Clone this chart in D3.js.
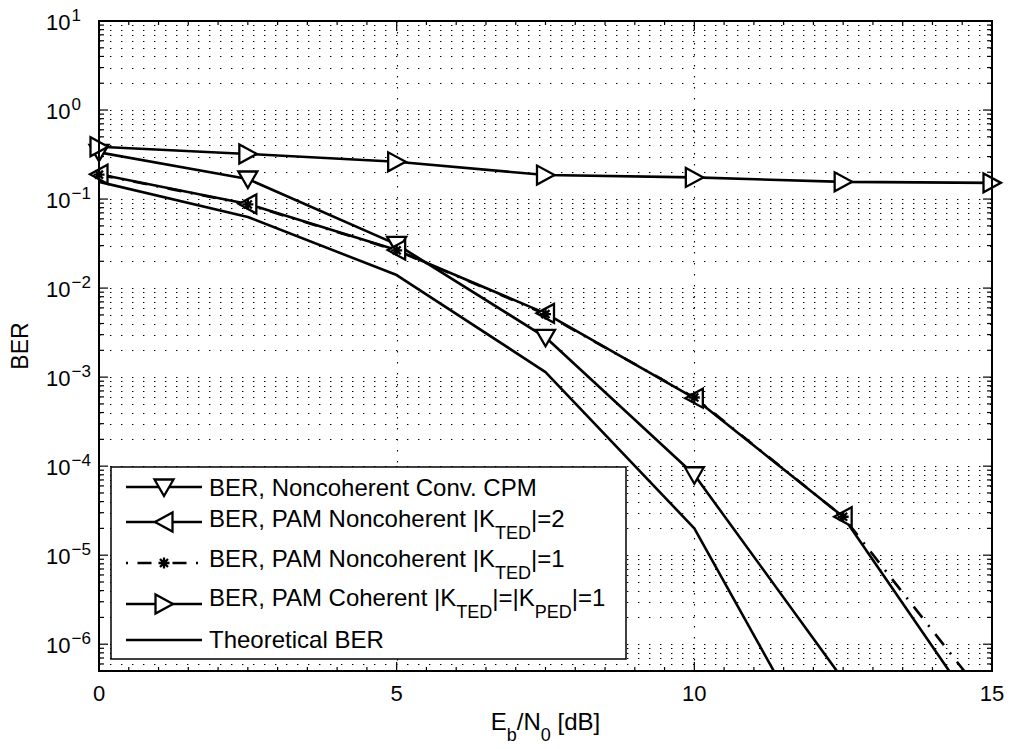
<!DOCTYPE html>
<html>
<head>
<meta charset="utf-8">
<script src="https://cdn.jsdelivr.net/npm/d3@7"></script>
<style>
  html, body { margin: 0; padding: 0; background: #fff; }
  svg { display: block; font-family: "Liberation Sans", Arial, Helvetica, sans-serif; }
</style>
</head>
<body>
<script>
// Eb/N0 grid (dB) shared by all curves
const ebn0 = [0, 2.5, 5, 7.5, 10, 12.5, 15];

// Bit error rates per receiver
const berConvCpm   = [0.335, 0.168, 0.031, 0.0028, 8.0e-5, 4.0e-7];
const berPamNcK2   = [0.19, 0.088, 0.0267, 0.0052, 5.8e-4, 2.7e-5, 1.0e-7];
const berPamNcK1   = [0.188, 0.087, 0.0265, 0.0051, 5.9e-4, 2.7e-5, 2.0e-7];
const berPamCoh    = [0.387, 0.321, 0.262, 0.186, 0.175, 0.156, 0.152];
const berTheory    = [0.156, 0.063, 0.014, 1.14e-3, 2.0e-5, 2.0e-8];

// Axis ticks
const xTicks = [0, 5, 10, 15];
const yExponents = [-6, -5, -4, -3, -2, -1, 0, 1];

const W = 1015, H = 749;
const plot = { left: 99, right: 992, top: 21, bottom: 671 };

const svg = d3.select("body").append("svg").attr("width", W).attr("height", H);

const x = d3.scaleLinear().domain([0, 15]).range([plot.left, plot.right]);
const y = d3.scaleLog().domain([5e-7, 10]).range([plot.bottom, plot.top]);

// plot background
svg.append("rect")
  .attr("x", plot.left).attr("y", plot.top)
  .attr("width", plot.right - plot.left).attr("height", plot.bottom - plot.top)
  .attr("fill", "#fff");

svg.append("clipPath").attr("id", "plotClip")
  .append("rect")
  .attr("x", plot.left).attr("y", plot.top)
  .attr("width", plot.right - plot.left).attr("height", plot.bottom - plot.top);

// ---- dotted grid ----
const [yMin, yMax] = y.domain();
const yGridVals = [];
for (let e = -7; e <= 1; e++) {
  for (let k = 1; k <= 9; k++) {
    const v = k * Math.pow(10, e);
    if (v > yMin * 1.0001 && v < yMax * 0.9999) yGridVals.push(v);
  }
}
const grid = svg.append("g").attr("stroke", "#000").attr("stroke-width", 1.1)
  .attr("stroke-dasharray", "1.4 9.6").attr("fill", "none");
grid.selectAll("line.h").data(yGridVals).join("line")
  .attr("class", "h")
  .attr("x1", plot.left).attr("x2", plot.right)
  .attr("y1", d => Math.round(y(d)) + 0.5).attr("y2", d => Math.round(y(d)) + 0.5);
grid.selectAll("line.v").data(xTicks.filter(t => t > 0 && t < 15)).join("line")
  .attr("class", "v")
  .attr("x1", d => Math.round(x(d)) + 0.5).attr("x2", d => Math.round(x(d)) + 0.5)
  .attr("y1", plot.top).attr("y2", plot.bottom);

// ---- tick marks (inward, both sides) ----
const ticks = svg.append("g").attr("stroke", "#000").attr("stroke-width", 1.2);
const yMajorVals = yExponents.map(e => Math.pow(10, e));
const yMinorVals = yGridVals.filter(v => !yMajorVals.some(m => Math.abs(m - v) / m < 1e-6));
function yTick(vals, len) {
  ticks.selectAll(null).data(vals).join("line")
    .attr("x1", plot.left).attr("x2", plot.left + len)
    .attr("y1", d => y(d)).attr("y2", d => y(d));
  ticks.selectAll(null).data(vals).join("line")
    .attr("x1", plot.right).attr("x2", plot.right - len)
    .attr("y1", d => y(d)).attr("y2", d => y(d));
}
yTick(yMajorVals, 9);
yTick(yMinorVals, 5);
const xMinorVals = d3.range(0.5, 15, 0.5).filter(v => v % 5 !== 0);
function xTick(vals, len) {
  ticks.selectAll(null).data(vals).join("line")
    .attr("x1", d => x(d)).attr("x2", d => x(d))
    .attr("y1", plot.bottom).attr("y2", plot.bottom - len);
  ticks.selectAll(null).data(vals).join("line")
    .attr("x1", d => x(d)).attr("x2", d => x(d))
    .attr("y1", plot.top).attr("y2", plot.top + len);
}
xTick(xTicks, 9);
xTick(xMinorVals, 4);

// ---- curves ----
const lineGen = d3.line().x((d, i) => x(ebn0[i])).y(d => y(d));
const curves = svg.append("g").attr("clip-path", "url(#plotClip)")
  .attr("fill", "none").attr("stroke", "#000").attr("stroke-width", 2.6)
  .attr("stroke-linejoin", "round");

const DASHDOT = "14 9.5 2 9.5";

const series = [
  { values: berConvCpm, marker: "down", dash: null },
  { values: berPamNcK2, marker: "left", dash: null },
  { values: berPamNcK1, marker: "star", dash: DASHDOT },
  { values: berPamCoh,  marker: "right", dash: null },
  { values: berTheory,  marker: null, dash: null }
];

// marker outlines in local coordinates
function markerPath(kind) {
  switch (kind) {
    case "down":  return "M-9.5,-7.5L9.5,-7.5L0,9Z";
    case "left":  return "M-9,0L8.5,-9.5L8.5,9.5Z";
    case "right": return "M9,0L-8.5,-9.5L-8.5,9.5Z";
    case "star":  return "M-5.5,0L5.5,0M0,-5.5L0,5.5M-4,-4L4,4M-4,4L4,-4";
  }
  return "";
}

function drawMarker(g, kind, cx, cy) {
  g.append("path")
    .attr("d", markerPath(kind))
    .attr("transform", `translate(${cx},${cy})`)
    .attr("fill", kind === "star" ? "none" : "#fff")
    .attr("stroke", "#000")
    .attr("stroke-width", 2.3)
    .attr("stroke-linejoin", "miter");
}

const markers = svg.append("g");
series.forEach(s => {
  curves.append("path")
    .attr("d", lineGen(s.values))
    .attr("stroke-dasharray", s.dash);
  if (s.marker) {
    s.values.forEach((v, i) => {
      if (v >= yMin && v <= yMax) drawMarker(markers, s.marker, x(ebn0[i]), y(v));
    });
  }
});

// ---- axes box ----
svg.append("rect")
  .attr("x", plot.left).attr("y", plot.top)
  .attr("width", plot.right - plot.left).attr("height", plot.bottom - plot.top)
  .attr("fill", "none").attr("stroke", "#000").attr("stroke-width", 2);

// ---- tick labels ----
const FS_TICK = 22, FS = 24, FS_SUB = 18;
svg.append("g").selectAll("text").data(xTicks).join("text")
  .attr("x", d => x(d)).attr("y", 701)
  .attr("text-anchor", "middle").attr("font-size", FS_TICK)
  .text(d => d);

const yl = svg.append("g").selectAll("g").data(yExponents).join("g");
yl.append("text")
  .attr("x", 70.5).attr("y", d => y(Math.pow(10, d)) + 9)
  .attr("text-anchor", "end").attr("font-size", FS_TICK)
  .text("10");
yl.append("text")
  .attr("x", 71.5).attr("y", d => y(Math.pow(10, d)) - 0.5)
  .attr("text-anchor", "start").attr("font-size", 17)
  .text(d => (d < 0 ? "\u2212" + (-d) : String(d)));

// ---- axis titles ----
const xt = svg.append("text")
  .attr("x", (plot.left + plot.right) / 2).attr("y", 730)
  .attr("text-anchor", "middle").attr("font-size", FS);
xt.append("tspan").text("E");
xt.append("tspan").attr("font-size", FS_SUB).attr("dy", 11).text("b");
xt.append("tspan").attr("dy", -11).text("/N");
xt.append("tspan").attr("font-size", FS_SUB).attr("dy", 11).text("0");
xt.append("tspan").attr("dy", -11).text(" [dB]");

svg.append("text")
  .attr("transform", `translate(28,${(plot.top + plot.bottom) / 2}) rotate(-90)`)
  .attr("text-anchor", "middle").attr("font-size", 23)
  .text("BER");

// ---- legend ----
const legendBox = { x0: 111, y0: 467, x1: 626, y1: 659 };
const leg = svg.append("g");
leg.append("rect")
  .attr("x", legendBox.x0).attr("y", legendBox.y0)
  .attr("width", legendBox.x1 - legendBox.x0).attr("height", legendBox.y1 - legendBox.y0)
  .attr("fill", "#fff").attr("stroke", "#000").attr("stroke-width", 1.5);

const legendRows = [
  { lineY: 487, textY: 496, parts: [["BER, Noncoherent Conv. CPM"]] },
  { lineY: 522, textY: 527, parts: [["BER, PAM Noncoherent |K"], ["TED", "sub"], ["|=2"]] },
  { lineY: 563, textY: 567, parts: [["BER, PAM Noncoherent |K"], ["TED", "sub"], ["|=1"]] },
  { lineY: 604, textY: 606, parts: [["BER, PAM Coherent |K"], ["TED", "sub"], ["|=|K"], ["PED", "sub"], ["|=1"]] },
  { lineY: 640, textY: 648, parts: [["Theoretical BER"]] }
];

legendRows.forEach((row, i) => {
  const s = series[i];
  leg.append("line")
    .attr("x1", 126).attr("x2", 202)
    .attr("y1", row.lineY).attr("y2", row.lineY)
    .attr("stroke", "#000").attr("stroke-width", 2.6)
    .attr("stroke-dasharray", s.dash)
    .attr("stroke-dashoffset", s.dash ? 23.5 : null);
  if (s.marker) drawMarker(leg, s.marker, 164, row.lineY);
  const t = leg.append("text").attr("x", 209).attr("y", row.textY).attr("font-size", FS);
  let shifted = false;
  row.parts.forEach(([str, kind]) => {
    const ts = t.append("tspan").text(str);
    if (kind === "sub") { ts.attr("font-size", FS_SUB).attr("dy", 12); shifted = true; }
    else if (shifted) { ts.attr("dy", -12); shifted = false; }
  });
});
</script>
</body>
</html>
